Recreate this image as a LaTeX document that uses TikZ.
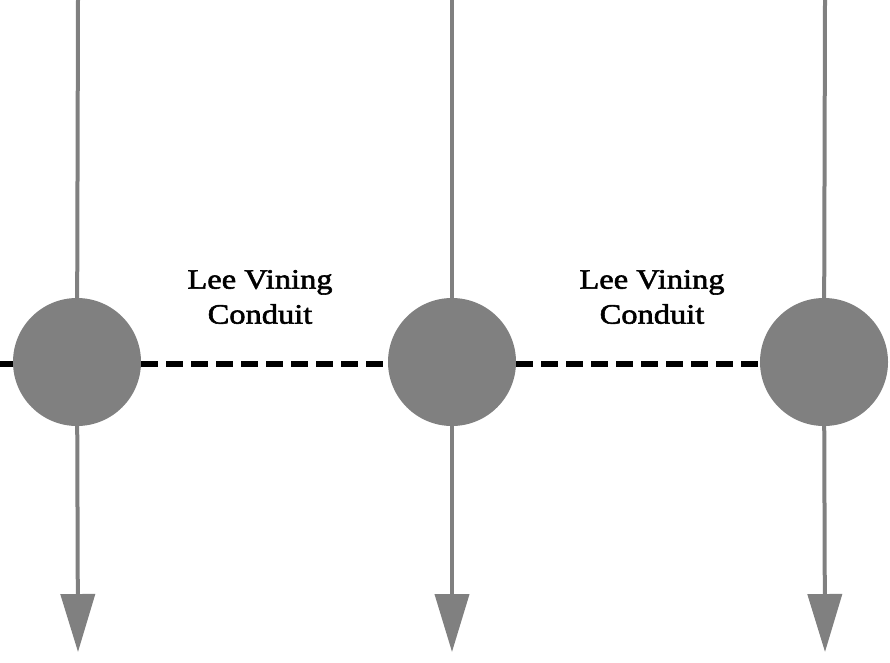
\documentclass[tikz,border=0pt]{standalone}
\usepackage{fontspec}
\setmainfont{Liberation Serif}
\newfontfamily\labelfont[FakeStretch=1.16, FakeBold=2]{Liberation Serif}
\usetikzlibrary{arrows.meta}
\definecolor{stipple}{gray}{0.5}
\tikzset{
  junction/.style={circle, fill=stipple, minimum size=128pt, inner sep=0pt},
  flow/.style={draw=stipple, line width=4pt},
  flowend/.style={flow, -{Triangle[length=58pt, width=34pt, fill=stipple]}},
  conduit/.style={draw=black, line width=6pt, dash pattern=on 17pt off 8pt},
  label/.style={align=center, font=\labelfont\fontsize{28}{35}\selectfont}
}
\begin{document}
\begin{tikzpicture}[x=1pt, y=-1pt]
  \useasboundingbox (0,0) rectangle (890,662);

  % stream ends
  \coordinate (t1) at (78,0);
  \coordinate (t2) at (452,0);
  \coordinate (t3) at (825,0);
  \coordinate (b1) at (78,652);
  \coordinate (b2) at (452,652);
  \coordinate (b3) at (825,652);
  \coordinate (w0) at (0,364);

  % junctions
  \node[junction] (c1) at (77,362) {};
  \node[junction] (c2) at (452,362) {};
  \node[junction] (c3) at (824,362) {};

  % streams flowing downward
  \draw[flow] (t1) -- (c1);
  \draw[flowend] (c1) -- (b1);
  \draw[flow] (t2) -- (c2);
  \draw[flowend] (c2) -- (b2);
  \draw[flow] (t3) -- (c3);
  \draw[flowend] (c3) -- (b3);

  % conduit links
  \draw[conduit] (w0) -- (c1.west |- w0);
  \draw[conduit] (c1.east |- w0) -- (c2.west |- w0);
  \draw[conduit] (c2.east |- w0) -- (c3.west |- w0);

  % labels
  \node[label] (l1) at (260,297) {Lee Vining\\Conduit};
  \node[label] (l2) at (652,297) {Lee Vining\\Conduit};
\end{tikzpicture}
\end{document}
